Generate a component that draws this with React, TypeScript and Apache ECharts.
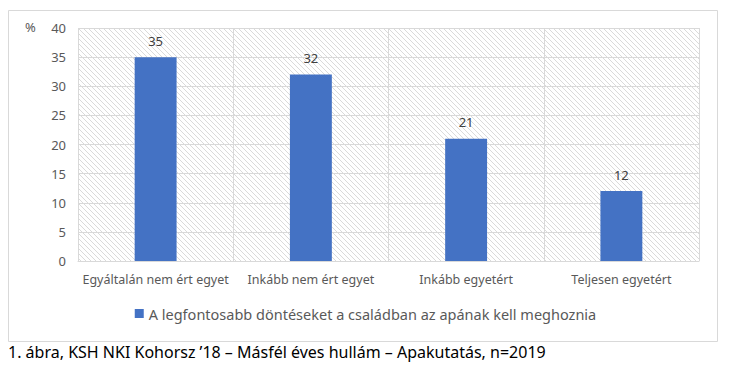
import React, { useEffect, useRef } from "react";
import * as echarts from "echarts";

const categories = ["Egyáltalán nem ért egyet", "Inkább nem ért egyet", "Inkább egyetért", "Teljesen egyetért"];
const values = [35, 32, 21, 12];
const seriesName = "A legfontosabb döntéseket a családban az apának kell meghoznia";
const caption = "1. ábra, KSH NKI Kohorsz ’18 – Másfél éves hullám – Apakutatás, n=2019";

const hatchSvg =
  "data:image/svg+xml;utf8," +
  encodeURIComponent(
    '<svg xmlns="http://www.w3.org/2000/svg" width="5" height="5"><rect width="5" height="5" fill="white"/><path d="M-1,4 L1,6 M-1,-1 L6,6 M4,-1 L6,1" stroke="#d6d6d6" stroke-width="0.9"/></svg>'
  );

export default function App() {
  const ref = useRef<HTMLDivElement>(null);
  useEffect(() => {
    if (!ref.current) return;
    const chart = echarts.init(ref.current, null, { renderer: "svg" });
    const font = "'Noto Sans', sans-serif";
    chart.setOption({
      animation: false,
      backgroundColor: "#ffffff",
      grid: {
        left: 78,
        right: 32,
        top: 28,
        bottom: 111,
        show: true,
        borderWidth: 0,
        backgroundColor: { image: hatchSvg, repeat: "repeat" },
      },
      graphic: [
        {
          type: "rect",
          shape: { x: 8.5, y: 10.5, width: 709, height: 331 },
          style: { fill: "none", stroke: "#d9d9d9", lineWidth: 1 },
          z: -1,
        },
        {
          type: "text",
          left: 25,
          top: 20,
          style: { text: "%", fill: "#595959", font: `13px ${font}` },
        },
        {
          type: "text",
          left: 8,
          top: 344,
          style: { text: caption, fill: "#000000", font: `16px ${font}` },
        },
      ],
      legend: {
        data: [seriesName],
        bottom: 46,
        left: "center",
        itemWidth: 9,
        itemHeight: 9,
        itemGap: 5,
        icon: "rect",
        textStyle: { color: "#595959", fontSize: 14.5, fontFamily: font },
      },
      xAxis: {
        type: "category",
        data: categories,
        axisLine: { show: true, lineStyle: { color: "#d9d9d9" } },
        axisTick: { show: false },
        splitLine: { show: true, lineStyle: { color: "#d9d9d9" } },
        axisLabel: { color: "#595959", fontSize: 12.5, fontFamily: font, margin: 12, interval: 0 },
      },
      yAxis: {
        type: "value",
        min: 0,
        max: 40,
        interval: 5,
        axisLine: { show: false },
        axisTick: { show: false },
        splitLine: { show: true, lineStyle: { color: "#d9d9d9" } },
        axisLabel: { color: "#595959", fontSize: 13, fontFamily: font, margin: 12 },
      },
      series: [
        {
          name: seriesName,
          type: "bar",
          data: values,
          barWidth: "27%",
          itemStyle: { color: "#4472C4" },
          label: {
            show: true,
            position: "top",
            distance: 10,
            color: "#404040",
            fontSize: 13,
            fontFamily: font,
          },
        },
      ],
    });
    return () => chart.dispose();
  }, []);
  return <div ref={ref} style={{ position: "fixed", left: 0, top: 0, width: 731, height: 372 }} />;
}
